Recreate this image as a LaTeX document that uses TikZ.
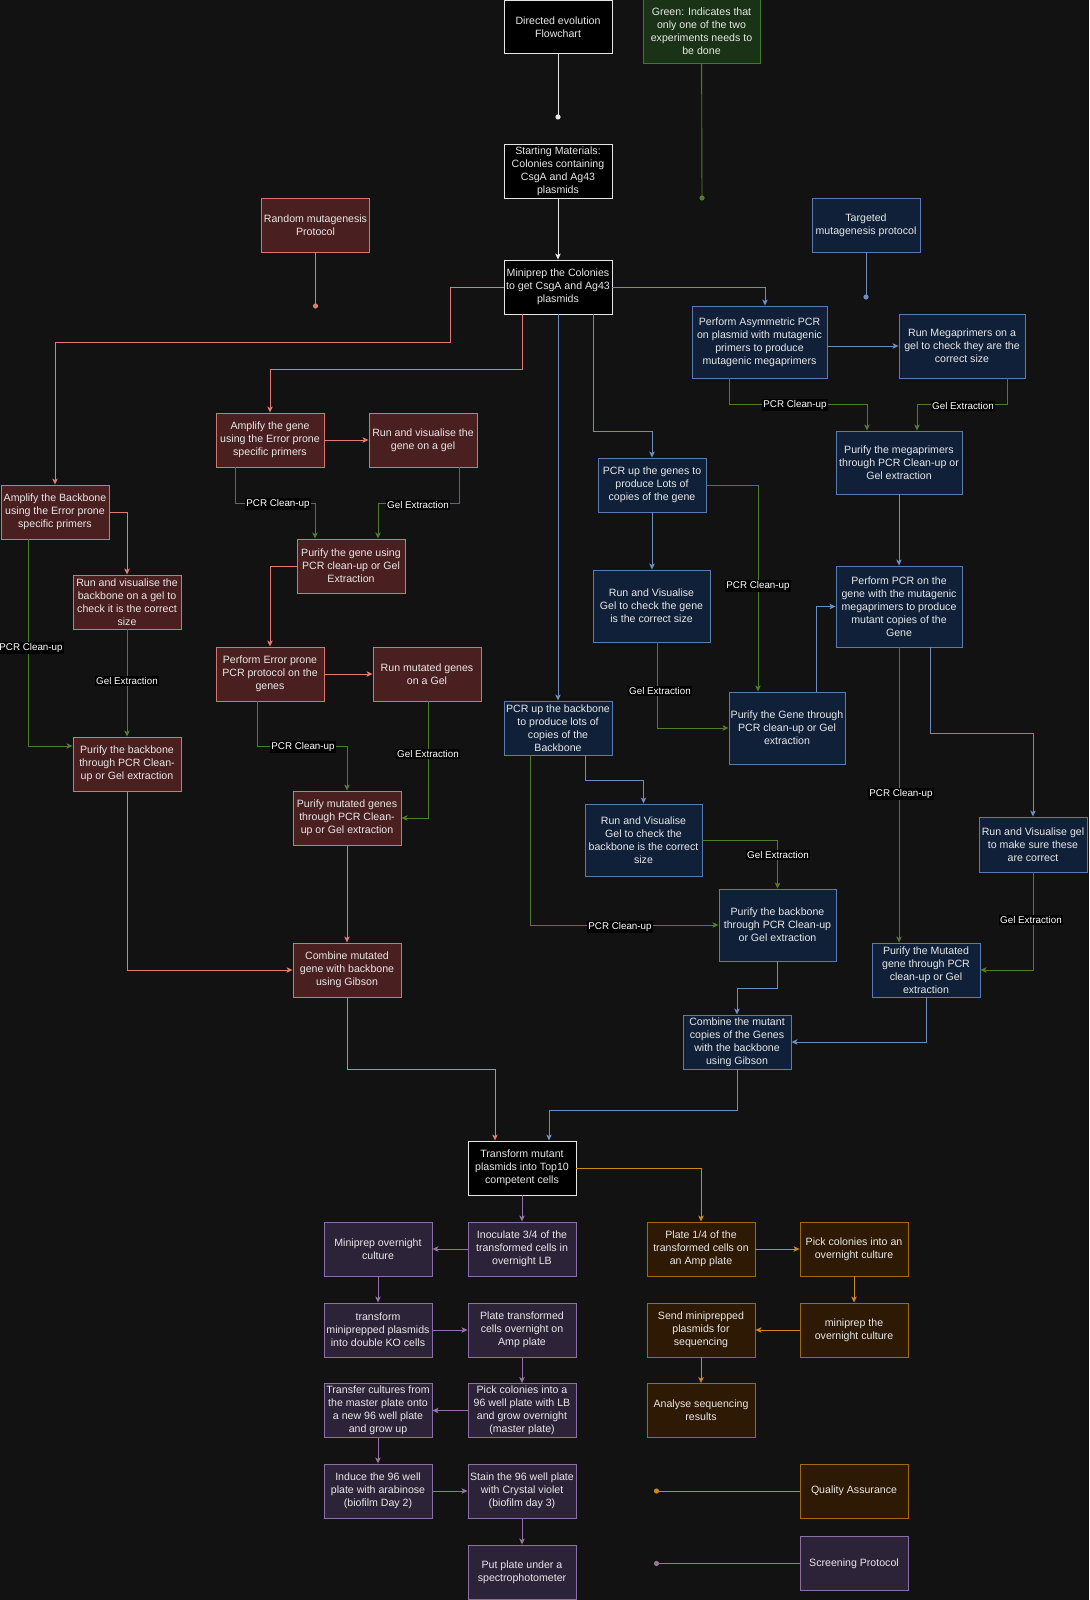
\documentclass[tikz,border=0pt]{standalone}
\usepackage{fontspec}
\setmainfont{Liberation Sans}
\usetikzlibrary{arrows.meta}
\definecolor{bgc}{HTML}{121212}
\definecolor{txt}{HTML}{E8E8E8}
\definecolor{blkline}{HTML}{E6E6E6}
\definecolor{redfill}{HTML}{4A1F1F}
\definecolor{redline}{HTML}{D4766F}
\definecolor{rededge}{HTML}{E07A73}
\definecolor{bluefill}{HTML}{0F2038}
\definecolor{blueline}{HTML}{5B7CB0}
\definecolor{blueedge}{HTML}{6C8EBF}
\definecolor{grnfill}{HTML}{1A3316}
\definecolor{grnline}{HTML}{3F7A25}
\definecolor{grnedge}{HTML}{4E7E2C}
\definecolor{purfill}{HTML}{2D2338}
\definecolor{purline}{HTML}{8C6FA3}
\definecolor{puredge}{HTML}{9673A6}
\definecolor{orfill}{HTML}{2E1904}
\definecolor{orline}{HTML}{A06A14}
\definecolor{oredge}{HTML}{C88A1A}
\newcommand\nodefont{\fontsize{10.6}{13}\selectfont}
\newcommand\labfont{\fontsize{9.8}{11}\selectfont}
\newcommand\mkbox[7]{\node[#1, minimum width=#5pt, minimum height=#6pt] (#2) at (#3,#4) {#7};}
\tikzset{
  base/.style={draw, line width=0.9pt, align=center, text=txt, font=\nodefont, inner sep=1pt},
  blk/.style={base, fill=black, draw=blkline},
  rbox/.style={base, fill=redfill, draw=redline},
  bbox/.style={base, fill=bluefill, draw=blueline},
  gbox/.style={base, fill=grnfill, draw=grnline},
  pbox/.style={base, fill=purfill, draw=purline},
  obox/.style={base, fill=orfill, draw=orline},
  tip/.style={-{Stealth[length=6pt,width=5.5pt,inset=1.5pt]}},
  wline/.style={draw=blkline, line width=0.9pt},
  rline/.style={draw=rededge, line width=0.9pt},
  bline/.style={draw=blueedge, line width=0.9pt},
  gline/.style={draw=grnedge, line width=0.9pt},
  pline/.style={draw=puredge, line width=0.9pt},
  oline/.style={draw=oredge, line width=0.9pt},
  lab/.style={fill=black, text=white, font=\labfont, inner sep=1.2pt},
}
\begin{document}
\begin{tikzpicture}[x=1pt,y=-1pt]
\useasboundingbox (0,0) rectangle (1089,1600);
\fill[bgc] (0,0) rectangle (1089,1600);

% ---------------- nodes ----------------
% black
\mkbox{blk}{title}{558}{27}{108}{53}{Directed evolution\\Flowchart}
\mkbox{blk}{start}{558}{171}{108}{54}{Starting Materials:\\Colonies containing\\CsgA and Ag43\\plasmids}
\mkbox{blk}{miniprep}{558}{287}{108}{54}{Miniprep the Colonies\\to get CsgA and Ag43\\plasmids}
\mkbox{blk}{transform}{522}{1168}{108}{54}{Transform mutant\\plasmids into Top10\\competent cells}
% legend
\mkbox{gbox}{legend}{701.5}{31}{117}{64}{Green: Indicates that\\only one of the two\\experiments needs to\\be done}
% red
\mkbox{rbox}{random}{315.5}{225}{108}{54}{Random mutagenesis\\Protocol}
\mkbox{rbox}{ampbb}{55}{512}{108}{54}{Amplify the Backbone\\using the Error prone\\specific primers}
\mkbox{rbox}{runbb}{127}{602}{108}{54}{Run and visualise the\\backbone on a gel to\\check it is the correct\\size}
\mkbox{rbox}{purbb}{127}{764}{108}{54}{Purify the backbone\\through PCR Clean-\\up or Gel extraction}
\mkbox{rbox}{ampgene}{270}{440}{108}{54}{Amplify the gene\\using the Error prone\\specific primers}
\mkbox{rbox}{rungene}{423}{440}{108}{54}{Run and visualise the\\gene on a gel}
\mkbox{rbox}{purgene}{351}{566}{108}{54}{Purify the gene using\\PCR clean-up or Gel\\Extraction}
\mkbox{rbox}{errpcr}{270}{674}{108}{54}{Perform Error prone\\PCR protocol on the\\genes}
\mkbox{rbox}{runmut}{427}{674}{108}{54}{Run mutated genes\\on a Gel}
\mkbox{rbox}{purmut}{347}{818}{108}{54}{Purify mutated genes\\through PCR Clean-\\up or Gel extraction}
\mkbox{rbox}{combred}{347}{970}{108}{54}{Combine mutated\\gene with backbone\\using Gibson}
% blue
\mkbox{bbox}{targeted}{866}{225}{108}{54}{Targeted\\mutagenesis protocol}
\mkbox{bbox}{asym}{759.5}{342}{135}{72}{Perform Asymmetric PCR\\on plasmid with mutagenic\\primers to produce\\mutagenic megaprimers}
\mkbox{bbox}{mega}{962}{346}{126}{64}{Run Megaprimers on a\\gel to check they are the\\correct size}
\mkbox{bbox}{purmega}{899}{462.5}{126}{63}{Purify the megaprimers\\through PCR Clean-up or\\Gel extraction}
\mkbox{bbox}{pcrgenes}{652}{485}{108}{54}{PCR up the genes to\\produce Lots of\\copies of the gene}
\mkbox{bbox}{runvisgene}{651.5}{606}{117}{72}{Run and Visualise\\Gel to check the gene\\is the correct size}
\mkbox{bbox}{purgeneb}{787}{728}{116}{72}{Purify the Gene through\\PCR clean-up or Gel\\extraction}
\mkbox{bbox}{perfpcr}{899}{606.5}{126}{81}{Perform PCR on the\\gene with the mutagenic\\megaprimers to produce\\mutant copies of the\\Gene}
\mkbox{bbox}{pcrbb}{558}{728}{108}{54}{PCR up the backbone\\to produce lots of\\copies of the\\Backbone}
\mkbox{bbox}{runvisbb}{643.5}{840}{117}{72}{Run and Visualise\\Gel to check the\\backbone is the correct\\size}
\mkbox{bbox}{purbbb}{777.5}{925}{117}{72}{Purify the backbone\\through PCR Clean-up\\or Gel extraction}
\mkbox{bbox}{runvisgel}{1033}{844.5}{108}{55}{Run and Visualise gel\\to make sure these\\are correct}
\mkbox{bbox}{purmutb}{926}{970}{108}{54}{Purify the Mutated\\gene through PCR\\clean-up or Gel\\extraction}
\mkbox{bbox}{combblue}{737}{1042}{108}{54}{Combine the mutant\\copies of the Genes\\with the backbone\\using Gibson}
% purple
\mkbox{pbox}{inoc}{522}{1249}{108}{54}{Inoculate 3/4 of the\\transformed cells in\\overnight LB}
\mkbox{pbox}{mpovn}{378}{1249}{108}{54}{Miniprep overnight\\culture}
\mkbox{pbox}{trmini}{378}{1330}{108}{54}{transform\\miniprepped plasmids\\into double KO cells}
\mkbox{pbox}{platetr}{522}{1330}{108}{54}{Plate transformed\\cells overnight on\\Amp plate}
\mkbox{pbox}{pick96}{522}{1410.5}{108}{54}{Pick colonies into a\\96 well plate with LB\\and grow overnight\\(master plate)}
\mkbox{pbox}{transfer}{378}{1410.5}{108}{54}{Transfer cultures from\\the master plate onto\\a new 96 well plate\\and grow up}
\mkbox{pbox}{induce}{378}{1491}{108}{54}{Induce the 96 well\\plate with arabinose\\(biofilm Day 2)}
\mkbox{pbox}{stain}{522}{1491}{108}{54}{Stain the 96 well plate\\with Crystal violet\\(biofilm day 3)}
\mkbox{pbox}{putplate}{522}{1572}{108}{54}{Put plate under a\\spectrophotometer}
\mkbox{pbox}{screening}{854}{1563.5}{108}{54}{Screening Protocol}
% orange
\mkbox{obox}{plate14}{701}{1249}{108}{54}{Plate 1/4 of the\\transformed cells on\\an Amp plate}
\mkbox{obox}{pickov}{854}{1249}{108}{54}{Pick colonies into an\\overnight culture}
\mkbox{obox}{mpov2}{854}{1330}{108}{54}{miniprep the\\overnight culture}
\mkbox{obox}{send}{701}{1330}{108}{54}{Send miniprepped\\plasmids for\\sequencing}
\mkbox{obox}{analyse}{701}{1410.5}{108}{54}{Analyse sequencing\\results}
\mkbox{obox}{qa}{854}{1491}{108}{54}{Quality Assurance}

% dot ends
\coordinate (dtitle) at (558,117);
\coordinate (dlegend) at (702,198);
\coordinate (drandom) at (315.5,306);
\coordinate (dtarget) at (866,297);
\coordinate (dqa) at (656.5,1491);
\coordinate (dscreen) at (656.5,1563.5);

% ---------------- connectors ----------------
% white
\draw[wline] (title) -- (dtitle);
\fill[blkline] (dtitle) circle (2.6pt);
\draw[wline,tip] (start) -- (miniprep);

% legend
\draw[gline] (legend) -- (dlegend);
\fill[grnedge] (dlegend) circle (2.6pt);

% red
\draw[rline] (random) -- (drandom);
\fill[rededge] (drandom) circle (2.6pt);
\draw[rline,tip] (miniprep.west) -| (450,342) -| (ampbb.north);
\draw[rline,tip] ([xshift=-36pt]miniprep.south) |- (270,369) -- (ampgene.north);
\draw[rline,tip] (ampgene) -- (rungene);
\draw[rline,tip] (ampbb.east) -| (runbb.north);
\draw[rline,tip] (purgene.west) -| (errpcr.north);
\draw[rline,tip] (errpcr) -- (runmut);
\draw[rline,tip] (purmut) -- (combred);
\draw[rline,tip] (purbb.south) |- (combred.west);
\draw[rline,tip] (combred.south) |- (495,1069) -- ([xshift=-27pt]transform.north);

% green (red section)
\draw[gline,tip] ([xshift=-35pt]ampgene.south) |- (315,503) -- ([xshift=-36pt]purgene.north);
\node[lab] (l1) at (278,504) {PCR Clean-up};
\draw[gline,tip] ([xshift=36pt]rungene.south) |- (378,503) -- ([xshift=27pt]purgene.north);
\node[lab] (l2) at (418,505) {Gel Extraction};
\draw[gline,tip] ([xshift=-27pt]ampbb.south) |- ([yshift=18pt]purbb.west);
\node[lab] (l3) at (31,648) {PCR Clean-up};
\draw[gline,tip] (runbb) -- (purbb);
\node[lab] (l4) at (127,681) {Gel Extraction};
\draw[gline,tip] ([xshift=-13pt]errpcr.south) |- (347,746) -- (purmut.north);
\node[lab] (l5) at (303,747) {PCR Clean-up};
\draw[gline,tip] ([xshift=1pt]runmut.south) |- (purmut.east);
\node[lab] (l6) at (428,754) {Gel Extraction};

% green (blue section)
\draw[gline,tip] ([xshift=-30.5pt]asym.south) |- (867,404) -- ([xshift=-32pt]purmega.north);
\node[lab] (l7) at (795,405) {PCR Clean-up};
\draw[gline,tip] ([xshift=45pt]mega.south) |- (917,404) -- ([xshift=18pt]purmega.north);
\node[lab] (l8) at (963,406) {Gel Extraction};
\draw[gline,tip] (pcrgenes.east) -| ([xshift=-29pt]purgeneb.north);
\node[lab] (l9) at (758,586) {PCR Clean-up};
\draw[gline,tip] ([xshift=5.5pt]runvisgene.south) |- (purgeneb.west);
\node[lab] (l10) at (660,691) {Gel Extraction};
\draw[gline,tip] (perfpcr.south) -- (perfpcr.south |- purmutb.north);
\node[lab] (l11) at (901,794) {PCR Clean-up};
\draw[gline,tip] (runvisgel.south) |- (purmutb.east);
\node[lab] (l12) at (1031,920) {Gel Extraction};
\draw[gline,tip] ([xshift=-28pt]pcrbb.south) |- (purbbb.west);
\node[lab] (l13) at (620,927) {PCR Clean-up};
\draw[gline,tip] (runvisbb.east) -| (purbbb.north);
\node[lab] (l14) at (778,855) {Gel Extraction};

% blue
\draw[bline] (targeted) -- (dtarget);
\fill[blueedge] (dtarget) circle (2.6pt);
\draw[bline,tip] (miniprep.east) -| ([xshift=5.5pt]asym.north);
\draw[bline,tip] (mega.west -| asym.east) -- (mega.west);
\draw[bline,tip] ([xshift=35pt]miniprep.south) |- (652,431) -- (pcrgenes.north);
\draw[bline,tip] (miniprep) -- (pcrbb);
\draw[bline,tip] (pcrgenes.south) -- (pcrgenes.south |- runvisgene.north);
\draw[bline,tip] (purmega) -- (perfpcr);
\draw[bline,tip] ([xshift=29pt]purgeneb.north) |- (perfpcr.west);
\draw[bline,tip] ([xshift=31pt]perfpcr.south) |- (1033,733) -- (runvisgel.north);
\draw[bline,tip] ([xshift=27pt]pcrbb.south) |- (643.5,780) -- (runvisbb.north);
\draw[bline,tip] (purbbb.south) |- (737,988) -- (combblue.north);
\draw[bline,tip] (purmutb.south) |- (combblue.east);
\draw[bline,tip] (combblue.south) |- (549,1110) -- ([xshift=27pt]transform.north);

% purple
\draw[pline,tip] (transform) -- (inoc);
\draw[pline,tip] (inoc) -- (mpovn);
\draw[pline,tip] (mpovn) -- (trmini);
\draw[pline,tip] (trmini) -- (platetr);
\draw[pline,tip] (platetr) -- (pick96);
\draw[pline,tip] (pick96) -- (transfer);
\draw[pline,tip] (transfer) -- (induce);
\draw[pline,tip] (induce) -- (stain);
\draw[pline,tip] (stain) -- (putplate);
\draw[pline] (screening) -- (dscreen);
\fill[puredge] (dscreen) circle (2.6pt);

% orange
\draw[oline,tip] (transform.east) -| (plate14.north);
\draw[oline,tip] (plate14) -- (pickov);
\draw[oline,tip] (pickov) -- (mpov2);
\draw[oline,tip] (mpov2) -- (send);
\draw[oline,tip] (send) -- (analyse);
\draw[oline] (qa) -- (dqa);
\fill[oredge] (dqa) circle (2.6pt);
\end{tikzpicture}
\end{document}
